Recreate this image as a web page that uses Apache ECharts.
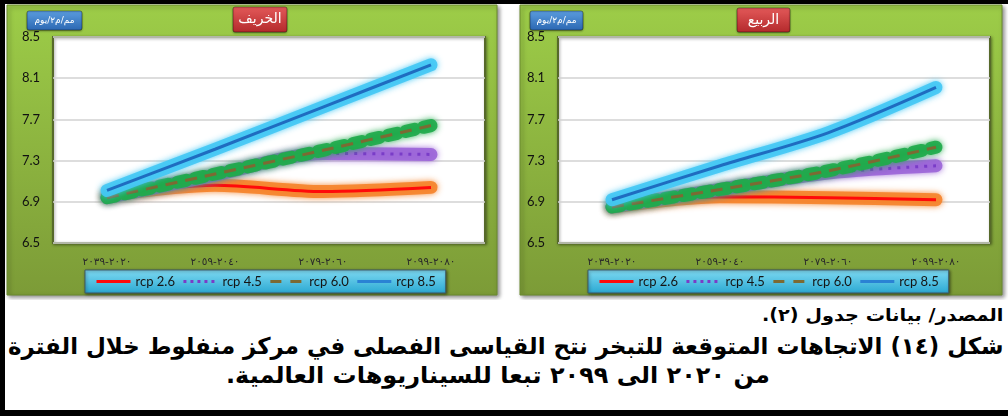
<!DOCTYPE html>
<html>
<head>
<meta charset="utf-8">
<script src="https://cdn.jsdelivr.net/npm/echarts@6/dist/echarts.min.js"></script>
<style>
  html, body { margin: 0; padding: 0; background: #fff; }
  #page { position: relative; width: 1008px; height: 416px; overflow: hidden; background: #fff; }
  #chart { position: absolute; left: 0; top: 0; width: 1008px; height: 300px; }
  .bar { position: absolute; background: #000; }
  .cap { position: absolute; direction: rtl; font-family: "DejaVu Sans", sans-serif; font-weight: bold;
         color: #000; white-space: nowrap; line-height: 1.15; transform-origin: left top; }
</style>
</head>
<body>
<div id="page">
  <div id="chart"></div>
  <div class="bar" style="left:0;top:0;width:1008px;height:4px"></div>
  <div class="bar" style="left:0;top:0;width:5px;height:416px"></div>
  <div class="bar" style="left:0;top:410px;width:1008px;height:6px"></div>
  <div class="cap" id="cap1" data-left="762" data-width="241" style="top:306px;font-size:17px">المصدر/ بيانات جدول (٢).</div>
  <div class="cap" id="cap2" data-left="8" data-width="995" style="top:333px;font-size:23px">شكل (١٤) الاتجاهات المتوقعة للتبخر نتح القياسى الفصلى في مركز منفلوط خلال الفترة</div>
  <div class="cap" id="cap3" data-left="226" data-width="544" style="top:362px;font-size:23px">من ٢٠٢٠ الى ٢٠٩٩ تبعا للسيناريوهات العالمية.</div>
</div>
<script>
// Periods (x axis categories)
const categories = ['٢٠٢٠-٢٠٣٩', '٢٠٤٠-٢٠٥٩', '٢٠٦٠-٢٠٧٩', '٢٠٨٠-٢٠٩٩'];
const scenarioNames = ['rcp 2.6', 'rcp 4.5', 'rcp 6.0', 'rcp 8.5'];

// Seasonal reference evapotranspiration (mm/m²/day) — autumn
const autumnRcp26 = [6.96, 7.06, 7.00, 7.04];
const autumnRcp45 = [6.94, 7.16, 7.37, 7.36];
const autumnRcp60 = [6.94, 7.17, 7.40, 7.64];
const autumnRcp85 = [7.01, 7.41, 7.82, 8.23];

// Spring
const springRcp26 = [6.85, 6.95, 6.94, 6.92];
const springRcp45 = [6.85, 7.02, 7.18, 7.25];
const springRcp60 = [6.85, 7.02, 7.20, 7.43];
const springRcp85 = [6.92, 7.25, 7.57, 8.01];

// Value axis
const yMin = 6.5, yMax = 8.5, yStep = 0.4;

const panelTitles = ['الخريف', 'الربيع'];
const unitLabel = 'مم/م٢/يوم';

// Line styles for each scenario: a soft halo underneath a thin core line
const looks = {
  'rcp 2.6': { core: '#ff0a0a', halo: '#f5842c', type: 'solid', haloType: 'solid', width: 3 },
  'rcp 4.5': { core: '#7a3cc8', halo: '#9c66d8', type: [3, 6], haloType: 'solid', width: 3 },
  'rcp 6.0': { core: '#7c6a33', halo: '#1faa4b', type: [12, 8], haloType: [9, 9], width: 3 },
  'rcp 8.5': { core: '#1f6cc0', halo: '#44c8f4', type: 'solid', haloType: 'solid', width: 3 }
};

const panels = [
  { left: 53, values: [autumnRcp26, autumnRcp45, autumnRcp60, autumnRcp85] },
  { left: 558, values: [springRcp26, springRcp45, springRcp60, springRcp85] }
];

const grids = [], xAxes = [], yAxes = [], series = [];
panels.forEach((p, g) => {
  grids.push({
    left: p.left, top: 37, width: 432, height: 206, show: true,
    backgroundColor: '#ffffff', borderColor: '#56692a', borderWidth: 2,
    shadowColor: 'rgba(0,0,0,0.35)', shadowBlur: 3, shadowOffsetX: 1, shadowOffsetY: 1
  });
  xAxes.push({
    type: 'category', gridIndex: g, data: categories, boundaryGap: true,
    axisLine: { show: false }, axisTick: { show: false },
    axisLabel: { margin: 14, fontSize: 10.5, color: '#2a2a2a', fontFamily: 'DejaVu Sans' }
  });
  yAxes.push({
    type: 'value', gridIndex: g, min: yMin, max: yMax, interval: yStep,
    axisLine: { show: false }, axisTick: { show: false },
    axisLabel: { align: 'left', margin: 31, fontSize: 13, color: '#111', fontFamily: 'Lato',
                 formatter: v => v.toFixed(1) },
    splitLine: { lineStyle: { color: '#d2d2d2', width: 1.5 } }
  });
  scenarioNames.forEach((name, i) => {
    const lk = looks[name];
    series.push({
      name: name + ' halo', type: 'line', xAxisIndex: g, yAxisIndex: g,
      data: p.values[i], smooth: 0.3, symbol: 'none', silent: true,
      lineStyle: { color: lk.halo, width: 13, type: lk.haloType, cap: 'round', join: 'round',
                   opacity: 0.92, shadowBlur: 6, shadowColor: lk.halo }
    });
    series.push({
      name: name, type: 'line', xAxisIndex: g, yAxisIndex: g,
      data: p.values[i], smooth: 0.3, symbol: 'none',
      lineStyle: { color: lk.core, width: lk.width, type: lk.type, cap: 'butt' },
      itemStyle: { color: lk.core }
    });
  });
});

function legendAt(left, top) {
  return {
    data: scenarioNames.map(n => ({
      name: n,
      lineStyle: { color: n === 'rcp 8.5' ? '#2a82d4' : looks[n].core, width: 3,
                   type: looks[n].type === 'solid' ? 'solid' : (n === 'rcp 6.0' ? [11, 9] : [3, 4]) }
    })),
    left: left, top: top, orient: 'horizontal',
    itemWidth: 34, itemHeight: 12, itemGap: 7, padding: [5, 10],
    itemStyle: { opacity: 0 },
    backgroundColor: new echarts.graphic.LinearGradient(0, 0, 0, 1, [
      { offset: 0, color: '#7fdaf2' }, { offset: 1, color: '#2aa8d2' }]),
    borderColor: '#3d5866', borderWidth: 1,
    shadowColor: 'rgba(0,0,0,0.45)', shadowBlur: 3, shadowOffsetX: 1, shadowOffsetY: 1,
    textStyle: { fontFamily: 'Lato', fontSize: 13, color: '#151515' },
    selectedMode: false
  };
}

function panelRect(x, w) {
  return {
    type: 'rect', z: -10, shape: { x: x, y: 5, width: w, height: 290 },
    style: {
      fill: new echarts.graphic.LinearGradient(0, 0, 0, 1, [
        { offset: 0, color: '#9dcd48' }, { offset: 1, color: '#7c9b37' }]),
      stroke: '#6a8a2e', lineWidth: 1,
      shadowColor: 'rgba(0,0,0,0.45)', shadowBlur: 4, shadowOffsetX: 2, shadowOffsetY: 2
    }
  };
}

function tag(x, y, w, h, text, top, bottom, fontSize) {
  return {
    type: 'group', z: 5, children: [
      { type: 'rect', shape: { x: x, y: y, width: w, height: h, r: 2 },
        style: { fill: new echarts.graphic.LinearGradient(0, 0, 0, 1, [
                   { offset: 0, color: top }, { offset: 1, color: bottom }]),
                 stroke: 'rgba(0,0,0,0.35)', lineWidth: 1,
                 shadowColor: 'rgba(0,0,0,0.4)', shadowBlur: 2, shadowOffsetY: 1 } },
      { type: 'text', x: x + w / 2, y: y + h / 2,
        style: { text: text, fill: '#ffffff', font: fontSize + 'px "DejaVu Sans"',
                 textAlign: 'center', textVerticalAlign: 'middle' } }
    ]
  };
}

const chart = echarts.init(document.getElementById('chart'), null, { renderer: 'canvas' });
chart.setOption({
  backgroundColor: 'transparent',
  animation: false,
  grid: grids,
  xAxis: xAxes,
  yAxis: yAxes,
  legend: [legendAt(85, 270), legendAt(588, 270)],
  graphic: [
    panelRect(7, 490), panelRect(520, 482),
    tag(27, 11, 55, 19, unitLabel, '#5c9ee0', '#2b67b2', 9),
    tag(233, 7, 54, 25, panelTitles[0], '#e45a5a', '#b3292b', 14),
    tag(530, 11, 53, 19, unitLabel, '#5c9ee0', '#2b67b2', 9),
    tag(737, 8, 53, 24, panelTitles[1], '#e45a5a', '#b3292b', 14)
  ],
  series: series
});

// Fit each caption line to its column width
document.querySelectorAll('.cap').forEach(el => {
  const target = +el.dataset.width;
  el.style.left = el.dataset.left + 'px';
  el.style.transform = 'scaleX(' + (target / el.offsetWidth) + ')';
});
</script>
</body>
</html>
